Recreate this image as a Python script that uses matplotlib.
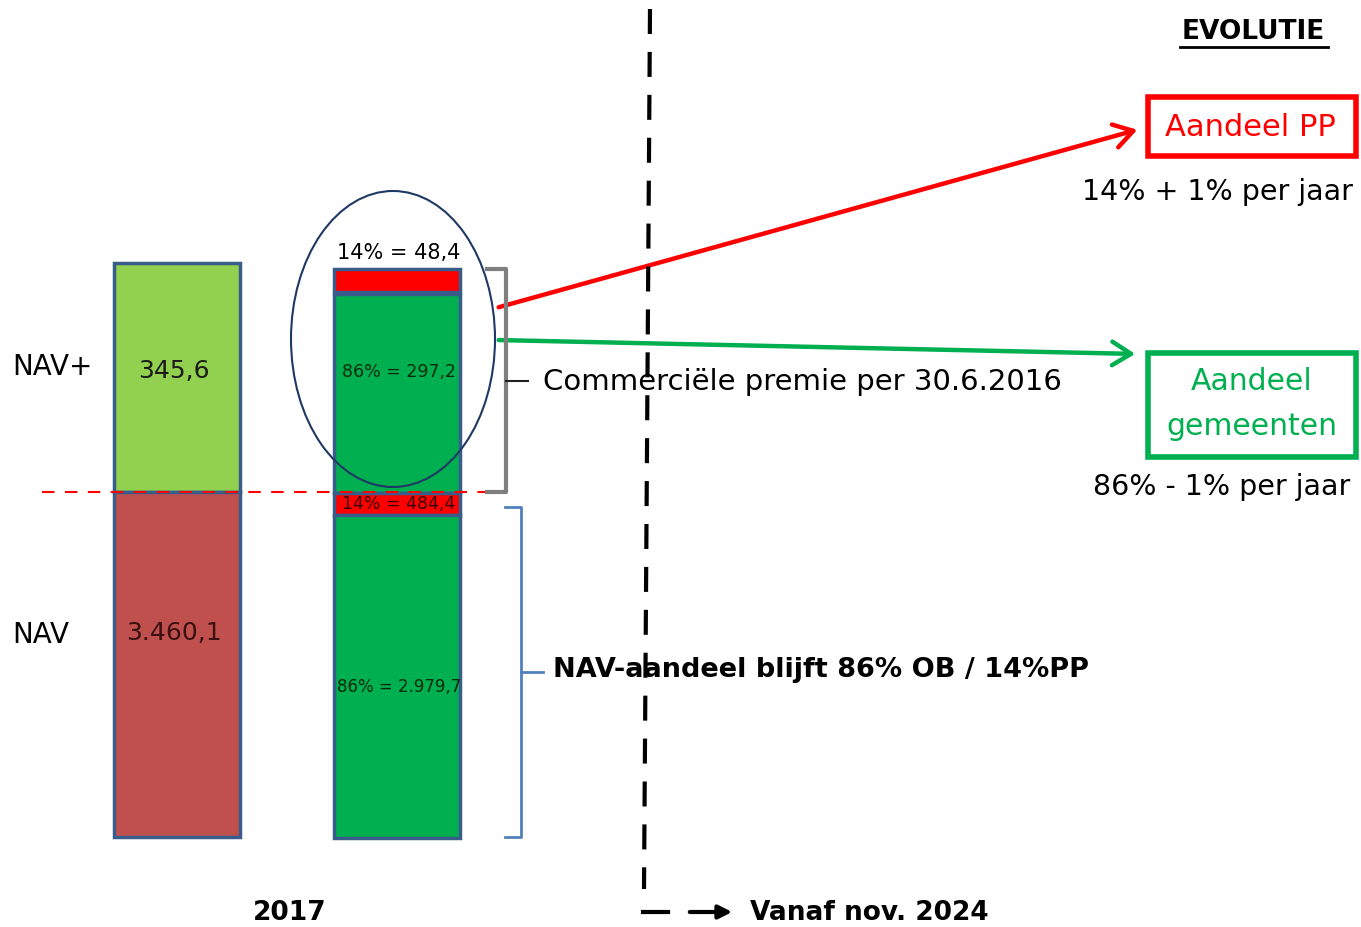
import matplotlib
matplotlib.use("Agg")
import matplotlib.pyplot as plt
from matplotlib.patches import Ellipse, Rectangle, FancyArrowPatch

# data
nav_labels = ["NAV+", "NAV"]
nav_values = [345.6, 3460.1]
nav_colors = ["#92D050", "#C0504D"]

share_pp = 14
share_ob = 86
split_labels = ["14% = 48,4", "86% = 297,2", "14% = 484,4", "86% = 2.979,7"]
split_values = [48.4, 297.2, 484.4, 2979.7]
split_colors = ["#FF0000", "#00B050", "#FF0000", "#00B050"]

year_label = "2017"
future_label = "Vanaf nov. 2024"

# schematic block heights (diagram is not to scale)
nav_heights = [229, 345]
split_heights = [23, 199, 22, 323]

edge = "#385D8A"
top = 264

fig = plt.figure(figsize=(13.61, 9.28), dpi=100)
ax = fig.add_axes([0, 0, 1, 1])
ax.set_xlim(0, 1361)
ax.set_ylim(928, 0)
ax.axis("off")

# left bar
bottom = top
label_y = [367, 635]
value_y = [371, 633]
for i, (lab, val, col, h) in enumerate(zip(nav_labels, nav_values, nav_colors, nav_heights)):
    ax.bar(177, h, width=126, bottom=bottom, color=col, edgecolor=edge, linewidth=2.5)
    txt = f"{val:,.1f}".replace(",", "X").replace(".", ",").replace("X", ".")
    ax.text(174, value_y[i], txt, ha="center", va="center", fontsize=18,
            color="#1a1a1a" if i == 0 else "#3a1010")
    ax.text(12, label_y[i], lab, ha="left", va="center", fontsize=20)
    bottom += h

# right bar (split)
bottom = 270
text_y = [253, 372, 504, 687]
text_fs = [15, 12.5, 12.5, 12]
for i, (lab, col, h) in enumerate(zip(split_labels, split_colors, split_heights)):
    ax.bar(397, h, width=126, bottom=bottom, color=col, edgecolor=edge, linewidth=2.5)
    ax.text(399, text_y[i], lab, ha="center", va="center", fontsize=text_fs[i],
            color="black" if i == 0 else ("#0a2a0a" if col != "#FF0000" else "#3a0000"))
    bottom += h + (2 if i == 0 else 0)

# ellipse around NAV+ split
ax.add_patch(Ellipse((393, 340), 204, 296, fill=False, edgecolor="#1F3864", linewidth=1.5))

# red dashed split line
ax.plot([42, 487], [493, 493], color="red", linestyle=(0, (6, 5)), linewidth=1.5)

# gray bracket
ax.plot([487, 506, 506, 487], [270, 270, 493, 493], color="#7f7f7f", linewidth=3)
ax.plot([506, 528], [382, 382], color="#222222", linewidth=1.5)
ax.text(543, 382, "Commerciële premie per 30.6.2016", ha="left", va="center", fontsize=21)

# blue bracket
ax.plot([505, 521, 521, 505], [508, 508, 838, 838], color="#4F81BD", linewidth=2)
ax.plot([521, 543], [673, 673], color="#4F81BD", linewidth=2)
ax.text(553, 670, "NAV-aandeel blijft 86% OB / 14%PP", ha="left", va="center",
        fontsize=19.5, fontweight="bold")

# time divider
ax.plot([650, 644], [10, 890], color="black", linestyle=(0, (6, 4.3)), linewidth=3)
ax.plot([643, 668], [913, 913], color="black", linewidth=3)
ax.annotate("", xy=(735, 913), xytext=(687, 913),
            arrowprops=dict(arrowstyle="-|>", color="black", lw=3, mutation_scale=20))
ax.text(750, 913, future_label, ha="left", va="center", fontsize=19, fontweight="bold")
ax.text(290, 913, year_label, ha="center", va="center", fontsize=19, fontweight="bold")

# evolution
ax.text(1253, 32, "EVOLUTIE", ha="center", va="center", fontsize=19, fontweight="bold")
ax.plot([1180, 1328], [48, 48], color="black", linewidth=2)

ax.add_patch(FancyArrowPatch((496, 309), (1140, 130),
                             arrowstyle="->,head_length=0.8,head_width=0.5",
                             mutation_scale=17, color="red", linewidth=3.2))
ax.add_patch(FancyArrowPatch((496, 341), (1138, 355),
                             arrowstyle="->,head_length=0.8,head_width=0.5",
                             mutation_scale=17, color="#00B050", linewidth=3.2))

ax.add_patch(Rectangle((1148, 98), 208, 59, fill=False, edgecolor="red", linewidth=4))
ax.text(1250, 127, "Aandeel PP", ha="center", va="center", fontsize=22, color="red")
ax.text(1218, 192, f"{share_pp}% + 1% per jaar", ha="center", va="center", fontsize=20.5)

ax.add_patch(Rectangle((1148, 354), 208, 104, fill=False, edgecolor="#00B050", linewidth=4))
ax.text(1252, 382, "Aandeel", ha="center", va="center", fontsize=21.5, color="#00B050")
ax.text(1252, 427, "gemeenten", ha="center", va="center", fontsize=21.5, color="#00B050")
ax.text(1222, 487, f"{share_ob}% - 1% per jaar", ha="center", va="center", fontsize=20.5)

fig.savefig("out.png", dpi=100)
